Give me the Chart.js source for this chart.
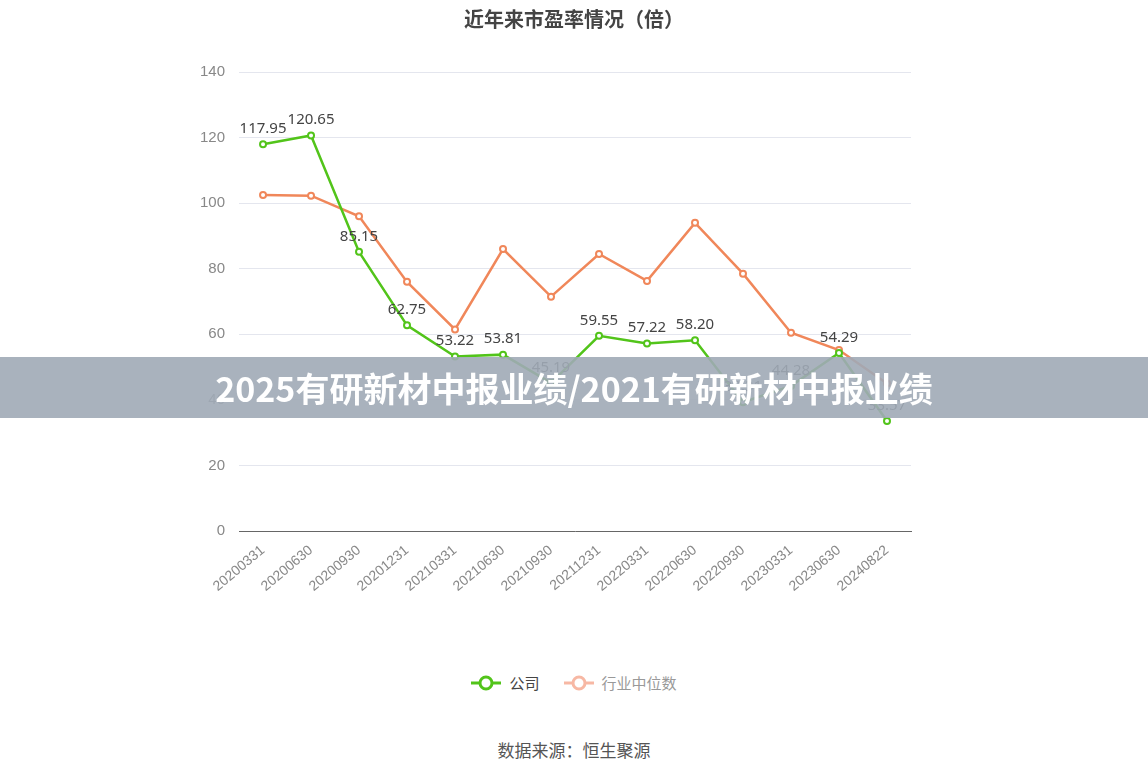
<!DOCTYPE html>
<html><head><meta charset="utf-8">
<script src="https://cdn.jsdelivr.net/npm/chart.js@4"></script>
<style>
body{margin:0;width:1148px;height:776px;background:#fff;font-family:"Noto Sans CJK SC","Noto Sans",sans-serif;position:relative;overflow:hidden}
#wrap{position:absolute;left:0;top:0;width:1148px;height:660px}
#title{position:absolute;top:4px;width:100%;text-align:center;font-size:20px;font-weight:bold;color:#444}
#legend{position:absolute;top:672px;width:100%;text-align:center;font-size:15px;color:#444}
#src{position:absolute;top:737px;width:100%;text-align:center;font-size:17px;color:#555}
#banner{position:absolute;left:0;top:357px;width:1148px;height:61px;background:rgba(160,170,182,0.9);color:#fff;font-weight:bold;font-size:34px;line-height:61px;text-align:center}
.li{display:inline-flex;align-items:center;margin:0 12px}
.li svg{margin-right:8px}
</style></head><body>
<div id="wrap"><canvas id="c" width="1148" height="660"></canvas></div>
<div id="title">近年来市盈率情况（倍）</div>
<div id="legend"><span class="li"><svg width="30" height="16"><line x1="0" y1="8" x2="30" y2="8" stroke="#52c41a" stroke-width="3"/><circle cx="15" cy="8" r="6" fill="#fff" stroke="#52c41a" stroke-width="3"/></svg>公司</span><span class="li" style="color:#999"><svg width="30" height="16"><line x1="0" y1="8" x2="30" y2="8" stroke="#f7b8a4" stroke-width="3"/><circle cx="15" cy="8" r="6" fill="#fff" stroke="#f7b8a4" stroke-width="3"/></svg>行业中位数</span></div>
<div id="src">数据来源：恒生聚源</div>
<div id="banner">2025有研新材中报业绩/2021有研新材中报业绩</div>
<script>
const categories=["20200331","20200630","20200930","20201231","20210331","20210630","20210930","20211231","20220331","20220630","20220930","20230331","20230630","20240822"];
const companyPE=[117.95,120.65,85.15,62.75,53.22,53.81,45.19,59.55,57.22,58.20,39.31,44.28,54.29,33.57];
const industryPE=[102.5,102.3,96.0,76.0,61.5,86.0,71.5,84.5,76.3,94.0,78.5,60.5,55.2,45.0];
const yTicks=[0,20,40,60,80,100,120,140];
const labelPlugin={id:'lbl',afterDatasetsDraw(ch){const ctx=ch.ctx;const m=ch.getDatasetMeta(0);ctx.save();ctx.font='15px "Noto Sans","DejaVu Sans",sans-serif';ctx.fillStyle='#444';ctx.textAlign='center';ctx.textBaseline='bottom';m.data.forEach((p,i)=>{ctx.fillText(companyPE[i].toFixed(2),p.x,p.y-8);});ctx.restore();}};
new Chart(document.getElementById('c'),{type:'line',
data:{labels:categories,datasets:[
{label:'公司',data:companyPE,borderColor:'#52c41a',backgroundColor:'#fff',borderWidth:2.5,pointRadius:3,pointBorderWidth:2,pointBackgroundColor:'#fff',tension:0},
{label:'行业中位数',data:industryPE,borderColor:'#f0875a',backgroundColor:'#fff',borderWidth:2.5,pointRadius:3,pointBorderWidth:2,pointBackgroundColor:'#fff',tension:0}]},
options:{responsive:false,animation:false,devicePixelRatio:1,
layout:{padding:{left:186,right:237,top:72,bottom:62}},
plugins:{legend:{display:false},tooltip:{enabled:false}},
scales:{x:{offset:true,grid:{display:false},border:{color:'#666'},ticks:{color:'#888',font:{size:14},maxRotation:40,minRotation:40}},
y:{min:0,max:140,afterBuildTicks(a){a.ticks=yTicks.map(v=>({value:v}));},grid:{color:'#e4e6ee',drawTicks:false},border:{display:false},ticks:{color:'#888',font:{size:15},padding:14}}}},
plugins:[labelPlugin]});
</script>
</body></html>
